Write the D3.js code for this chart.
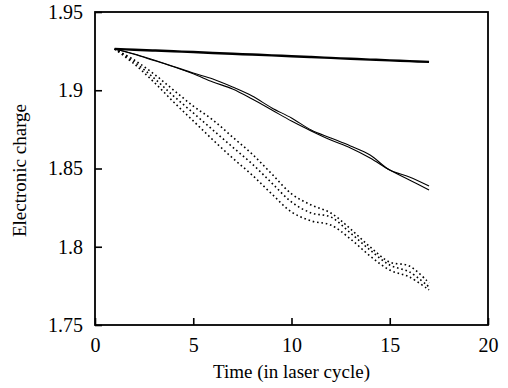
<!DOCTYPE html>
<html>
<head>
<meta charset="utf-8">
<script src="https://cdn.jsdelivr.net/npm/d3@7"></script>
<style>
  html, body { margin: 0; padding: 0; background: #fff; }
  svg { display: block; }
  .tick text { font-family: "Liberation Serif", "Times New Roman", serif; font-size: 20px; fill: #000; }
  .title { font-family: "Liberation Serif", "Times New Roman", serif; font-size: 19px; fill: #000; }
</style>
</head>
<body>
<svg id="chart" width="508" height="388"></svg>
<script>
// Time in laser cycles
const cycles = [1, 2, 3, 4, 5, 6, 7, 8, 9, 10, 11, 12, 13, 14, 15, 16, 17];

// Heavy solid curve
const chargeFlat = [1.9264, 1.9259, 1.9254, 1.9249, 1.9244, 1.9238, 1.9233, 1.9228, 1.9223,
                    1.9217, 1.9212, 1.9207, 1.9201, 1.9196, 1.9191, 1.9186, 1.9181];

// Two thin solid curves
const chargeSolidA = [1.9264, 1.9232, 1.9193, 1.9152, 1.9110, 1.9072, 1.9021, 1.8963, 1.8887,
                      1.8823, 1.8746, 1.8695, 1.8644, 1.8586, 1.8490, 1.8446, 1.8388];
const chargeSolidB = [1.9264, 1.9230, 1.9190, 1.9150, 1.9105, 1.9053, 1.9008, 1.8944, 1.8874,
                      1.8803, 1.8740, 1.8682, 1.8631, 1.8567, 1.8490, 1.8427, 1.8363];

// Three dotted curves
const chargeDotA = [1.9264, 1.9193, 1.9104, 1.9001, 1.8899, 1.8810, 1.8701, 1.8592, 1.8465,
                    1.8338, 1.8267, 1.8216, 1.8114, 1.7999, 1.7902, 1.7877, 1.7768];
const chargeDotB = [1.9264, 1.9181, 1.9078, 1.8963, 1.8855, 1.8746, 1.8637, 1.8529, 1.8407,
                    1.8286, 1.8216, 1.8190, 1.8088, 1.7979, 1.7883, 1.7839, 1.7743];
const chargeDotC = [1.9264, 1.9168, 1.9052, 1.8925, 1.8804, 1.8683, 1.8567, 1.8458, 1.8337,
                    1.8222, 1.8165, 1.8139, 1.8050, 1.7941, 1.7851, 1.7807, 1.7724];

const xTicks = [0, 5, 10, 15, 20];
const yTicks = [1.75, 1.8, 1.85, 1.9, 1.95];
const yTickLabels = ["1.75", "1.8", "1.85", "1.9", "1.95"];

const margin = { left: 95, top: 12, right: 20, bottom: 63 };
const width = 508 - margin.left - margin.right;
const height = 388 - margin.top - margin.bottom;

const svg = d3.select("#chart");
const g = svg.append("g").attr("transform", `translate(${margin.left},${margin.top})`);

const x = d3.scaleLinear().domain([0, 20]).range([0, width]);
const y = d3.scaleLinear().domain([1.75, 1.95]).range([height, 0]);

// Axes with inward ticks
const xAxis = d3.axisBottom(x).tickValues(xTicks).tickSizeInner(-7).tickSizeOuter(0).tickPadding(9)
  .tickFormat(d3.format("d"));
const yAxis = d3.axisLeft(y).tickValues(yTicks).tickSizeInner(-7).tickSizeOuter(0).tickPadding(12)
  .tickFormat((d, i) => yTickLabels[i]);

const gx = g.append("g").attr("transform", `translate(0,${height})`).call(xAxis);
const gy = g.append("g").call(yAxis);
[gx, gy].forEach(a => {
  a.select(".domain").remove();
  a.selectAll(".tick line").attr("stroke", "#000").attr("stroke-width", 1.6);
});
gx.selectAll(".tick text").attr("dy", "0.9em");

// Plot frame
g.append("rect")
  .attr("x", 0).attr("y", 0).attr("width", width).attr("height", height)
  .attr("fill", "none").attr("stroke", "#000").attr("stroke-width", 1.8);

const line = vals => d3.line()
  .x((d, i) => x(cycles[i]))
  .y(d => y(d))
  .curve(d3.curveCatmullRom.alpha(0.5))(vals);

// Dotted series
[chargeDotA, chargeDotB, chargeDotC].forEach(s => {
  g.append("path").attr("d", line(s))
    .attr("fill", "none").attr("stroke", "#000")
    .attr("stroke-width", 1.6).attr("stroke-dasharray", "1.6,2.8");
});

// Thin solid series
[chargeSolidA, chargeSolidB].forEach(s => {
  g.append("path").attr("d", line(s))
    .attr("fill", "none").attr("stroke", "#000").attr("stroke-width", 1.1);
});

// Heavy solid series
g.append("path").attr("d", line(chargeFlat))
  .attr("fill", "none").attr("stroke", "#000").attr("stroke-width", 2.4);

// Axis titles
svg.append("text").attr("class", "title")
  .attr("x", margin.left + width / 2).attr("y", 378)
  .attr("text-anchor", "middle")
  .text("Time (in laser cycle)");

svg.append("text").attr("class", "title")
  .attr("transform", `translate(26,${margin.top + height / 2 + 2}) rotate(-90)`)
  .attr("text-anchor", "middle")
  .text("Electronic charge");
</script>
</body>
</html>
